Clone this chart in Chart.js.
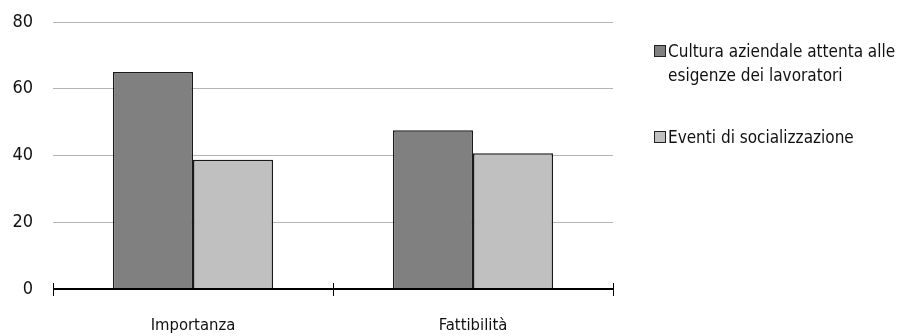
<!DOCTYPE html>
<html>
<head>
<meta charset="utf-8">
<script src="https://cdn.jsdelivr.net/npm/chart.js@4/dist/chart.umd.min.js"></script>
<style>
  html, body { margin: 0; padding: 0; background: #fff; }
  #wrap { position: relative; width: 897px; height: 336px; }
  #legend { position: absolute; left: 654px; top: 39px; font-family: 'Liberation Sans Narrow', 'DejaVu Sans Condensed', sans-serif; font-size: 17px; color: #111; line-height: 24px; }
  .item { position: relative; padding-left: 14px; width: 245px; }
  .item + .item { margin-top: 38px; }
  .sw { position: absolute; left: 0; top: 6px; width: 10px; height: 10px; border: 1px solid #222; }
</style>
</head>
<body>
<div id="wrap">
  <canvas id="c" width="897" height="336"></canvas>
  <div id="legend"></div>
</div>
<script>
const categories = ['Importanza', 'Fattibilità'];
const seriesNames = ['Cultura aziendale attenta alle esigenze dei lavoratori', 'Eventi di socializzazione'];
const culturaValues = [65.0, 47.6];
const eventiValues = [38.7, 40.7];
const yTicks = [0, 20, 40, 60, 80];

const colors = ['#808080', '#c0c0c0'];
const FONT = "'Liberation Sans Narrow', 'DejaVu Sans Condensed', sans-serif";

// HTML legend on the right, with wrapping text
const legend = document.getElementById('legend');
seriesNames.forEach((name, i) => {
  const d = document.createElement('div');
  d.className = 'item';
  const sw = document.createElement('span');
  sw.className = 'sw';
  sw.style.background = colors[i];
  d.appendChild(sw);
  d.appendChild(document.createTextNode(name));
  legend.appendChild(d);
});

// Black baseline with ticks crossing it at category boundaries
const axisPlugin = {
  id: 'axisPlugin',
  afterDatasetsDraw(chart) {
    const { ctx, chartArea, scales } = chart;
    const x = scales.x, y = scales.y;
    const y0 = y.getPixelForValue(0);
    ctx.save();
    ctx.strokeStyle = '#000';
    ctx.lineWidth = 2;
    ctx.beginPath();
    ctx.moveTo(chartArea.left, y0);
    ctx.lineTo(chartArea.right, y0);
    ctx.stroke();
    ctx.lineWidth = 1;
    const n = categories.length;
    for (let i = 0; i <= n; i++) {
      const px = Math.round(x.getPixelForValue(i - 0.5)) + 0.5;
      ctx.beginPath();
      ctx.moveTo(px, y0 - 6);
      ctx.lineTo(px, y0 + 7);
      ctx.stroke();
    }
    ctx.restore();
  }
};

new Chart(document.getElementById('c'), {
  type: 'bar',
  data: {
    labels: categories,
    datasets: [
      { label: seriesNames[0], data: culturaValues, backgroundColor: colors[0], borderColor: '#1a1a1a', borderWidth: 1.5 },
      { label: seriesNames[1], data: eventiValues, backgroundColor: colors[1], borderColor: '#1a1a1a', borderWidth: 1.5 }
    ]
  },
  options: {
    responsive: false,
    animation: false,
    layout: { padding: { top: 22, right: 284, left: 0, bottom: 0 } },
    plugins: { legend: { display: false }, tooltip: { enabled: false } },
    datasets: { bar: { categoryPercentage: 0.572, barPercentage: 1.0 } },
    scales: {
      x: {
        grid: { display: false },
        border: { display: false },
        ticks: { font: { family: FONT, size: 16.5 }, color: '#111', padding: 19 },
        afterFit(s) { s.height = 47; s.paddingLeft = 0; s.paddingRight = 0; }
      },
      y: {
        min: 0, max: 80,
        afterBuildTicks(s) { s.ticks = yTicks.map(v => ({ value: v })); },
        grid: { color: '#b4b4b4', lineWidth: 1, drawTicks: false },
        border: { display: false },
        ticks: { font: { family: FONT, size: 18 }, color: '#111', padding: 20 },
        afterFit(s) { s.width = 53; s.paddingTop = 0; s.paddingBottom = 0; }
      }
    }
  },
  plugins: [axisPlugin]
});
</script>
</body>
</html>
